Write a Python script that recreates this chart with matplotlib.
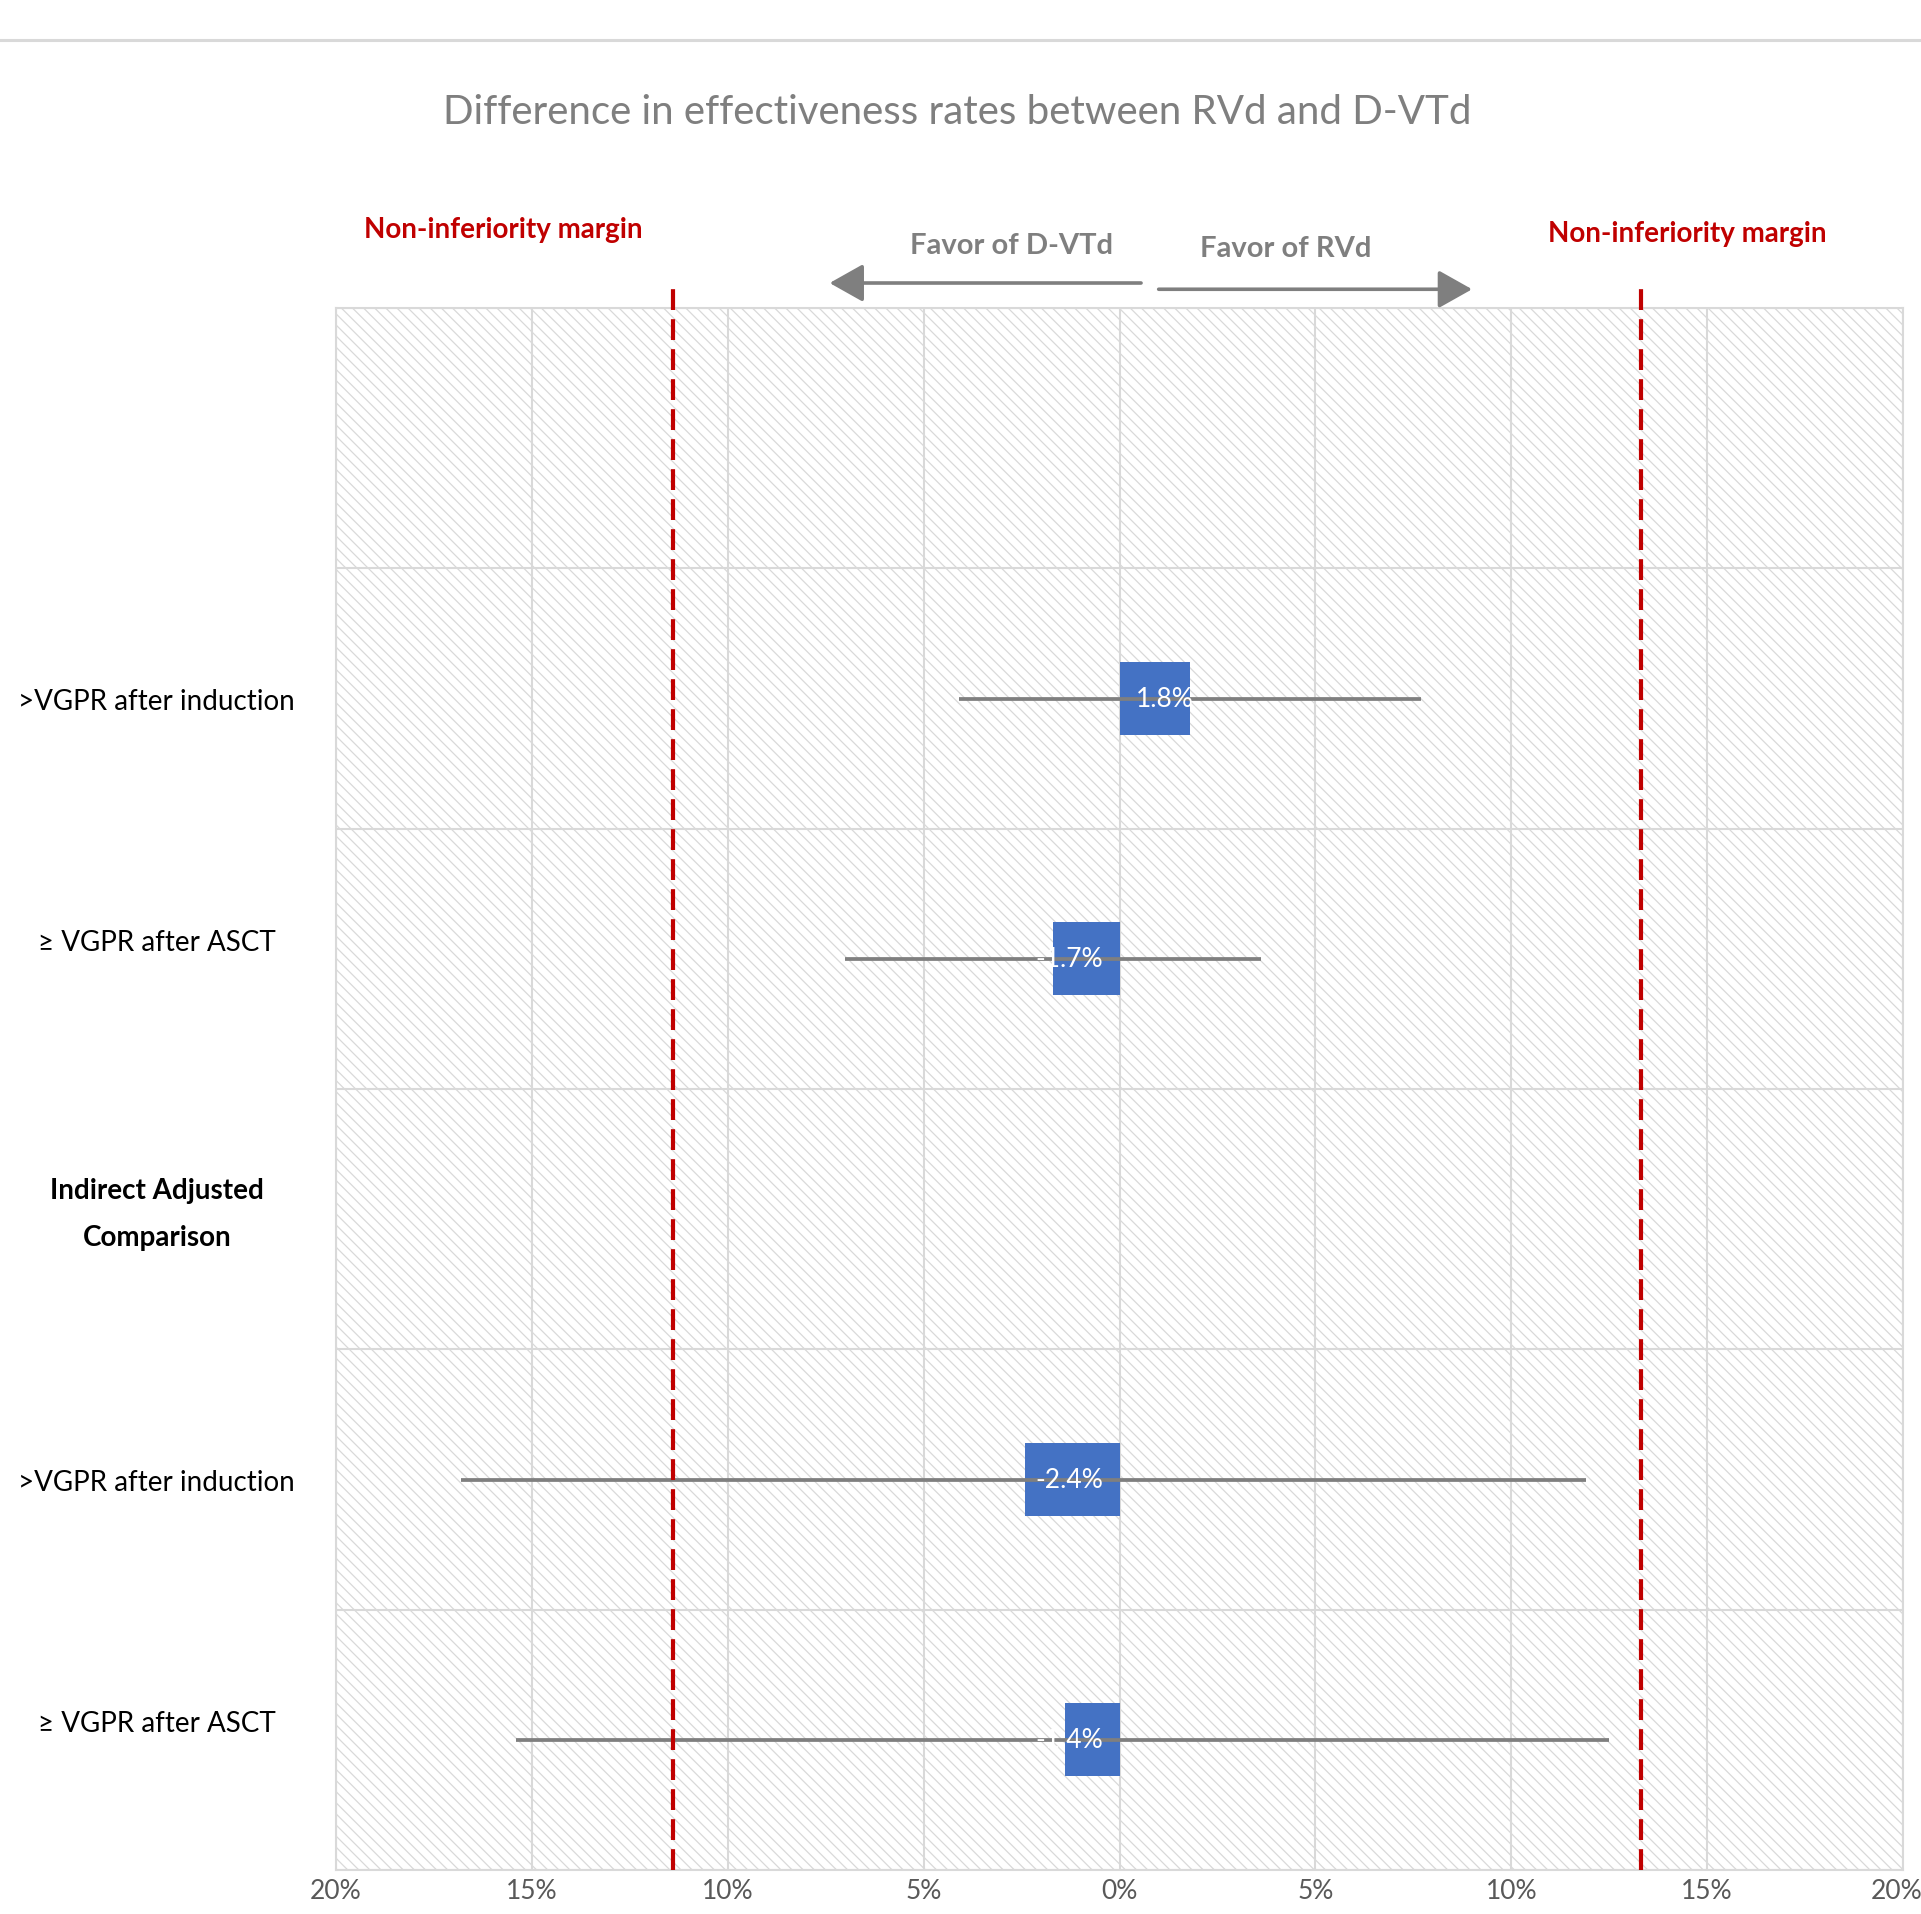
import numpy as np
import matplotlib
matplotlib.use("Agg")
import matplotlib.pyplot as plt
from matplotlib.patches import Rectangle
from matplotlib.lines import Line2D
from matplotlib.transforms import ScaledTranslation

plt.rcParams['font.family'] = ['Lato', 'DejaVu Sans']
plt.rcParams['hatch.linewidth'] = 0.9

# data (percent)
categories = ['', '>VGPR after induction', '\u2265 VGPR after ASCT',
              'Indirect Adjusted\nComparison', '>VGPR after induction',
              '\u2265 VGPR after ASCT']
diff = [np.nan, 1.8, -1.7, np.nan, -2.4, -1.4]
ci_low = [np.nan, -4.1, -7.0, np.nan, -16.8, -15.4]
ci_high = [np.nan, 7.7, 3.6, np.nan, 11.9, 12.5]
margin_low = -11.4
margin_high = 13.3
xticks = [-20, -15, -10, -5, 0, 5, 10, 15, 20]
xtick_labels = ['20%', '15%', '10%', '5%', '0%', '5%', '10%', '15%', '20%']

W, H = 1921, 1915
fig = plt.figure(figsize=(W / 100, H / 100), dpi=100)
ax = fig.add_axes([336 / W, 1 - 1871 / H, (1903 - 336) / W, (1871 - 309) / H])

grey = '#7f7f7f'
light = '#d9d9d9'
blue = '#4472c4'
red = '#c00000'

y = np.arange(len(categories))

# hatched background
ax.add_patch(Rectangle((0, 0), 1, 1, transform=ax.transAxes, facecolor='white',
                       edgecolor='#d9d9d9', hatch='\\\\\\', lw=0, zorder=0.1))

# bars and CI lines
ax.barh(y, diff, height=0.28, color=blue, zorder=2)
ax.hlines(y, ci_low, ci_high, color=grey, lw=2.7, zorder=3)

for yi, v in zip(y, diff):
    if np.isnan(v):
        continue
    off = 12 if v > 0 else -12
    ax.annotate(f'{v:.1f}%', (0, yi), xytext=(off, 0), textcoords='offset points',
                ha='left' if v > 0 else 'right', va='center', color='white',
                fontsize=19, zorder=4)

# non-inferiority margins
for m in [margin_low, margin_high]:
    ax.axvline(m, ymin=0, ymax=1.013, color=red, lw=3, ls=(0, (5, 2.2)),
               clip_on=False, zorder=3)

ax.set_xlim(-20, 20)
ax.set_ylim(len(categories) - 0.5, -0.5)
ax.set_xticks(xticks, xtick_labels)
ax.set_yticks(y, categories)
ax.set_yticks(np.arange(-0.5, len(categories)), minor=True)
ax.tick_params(axis='x', length=0, pad=6, labelsize=19, labelcolor='#595959')
ax.tick_params(axis='y', which='both', length=0, pad=129, labelsize=20)
xl = ax.get_xticklabels()
xl[-1].set_transform(xl[-1].get_transform() + ScaledTranslation(-6 / 100, 0, fig.dpi_scale_trans))
for lab in ax.get_yticklabels():
    lab.set_ha('center')
    lab.set_linespacing(2.0)
    txt = lab.get_text()
    if 'Indirect' in txt:
        lab.set_fontweight('bold')
    if 'Indirect' in txt or '\u2265' in txt:
        lab.set_transform(lab.get_transform() + ScaledTranslation(0, 0.19, fig.dpi_scale_trans))

ax.set_axisbelow(True)
ax.xaxis.grid(True, color=light, lw=1.5)
ax.yaxis.grid(True, which='minor', color=light, lw=1.5)
for s in ax.spines.values():
    s.set_color(light)
    s.set_linewidth(1.5)

# title and annotations
fig.text(957 / W, 1 - 113 / H, 'Difference in effectiveness rates between RVd and D-VTd',
         ha='center', va='center', fontsize=29, color=grey)
fig.text(503 / W, 1 - 230 / H, 'Non-inferiority margin', ha='center', va='center',
         fontsize=20, fontweight='bold', color=red)
fig.text(1687 / W, 1 - 234 / H, 'Non-inferiority margin', ha='center', va='center',
         fontsize=20, fontweight='bold', color=red)
fig.text(1011 / W, 1 - 246 / H, 'Favor of D-VTd', ha='center', va='center',
         fontsize=21, fontweight='bold', color=grey)
fig.text(1286 / W, 1 - 249 / H, 'Favor of RVd', ha='center', va='center',
         fontsize=21, fontweight='bold', color=grey)

trans = ax.get_xaxis_transform()
ax.annotate('', xy=(-7.4, 1.016), xytext=(0.55, 1.016), xycoords=trans,
            arrowprops=dict(arrowstyle='-|>,head_length=1.6,head_width=0.9',
                            color=grey, lw=2.6, mutation_scale=13,
                            shrinkA=0, shrinkB=0), annotation_clip=False)
ax.annotate('', xy=(9.0, 1.012), xytext=(1.0, 1.012), xycoords=trans,
            arrowprops=dict(arrowstyle='-|>,head_length=1.6,head_width=0.9',
                            color=grey, lw=2.6, mutation_scale=13,
                            shrinkA=0, shrinkB=0), annotation_clip=False)

# top rule
fig.add_artist(Line2D([0, 1], [1 - 41 / H, 1 - 41 / H], color=light, lw=2.2,
                      transform=fig.transFigure))

fig.savefig('out.png', dpi=100)
